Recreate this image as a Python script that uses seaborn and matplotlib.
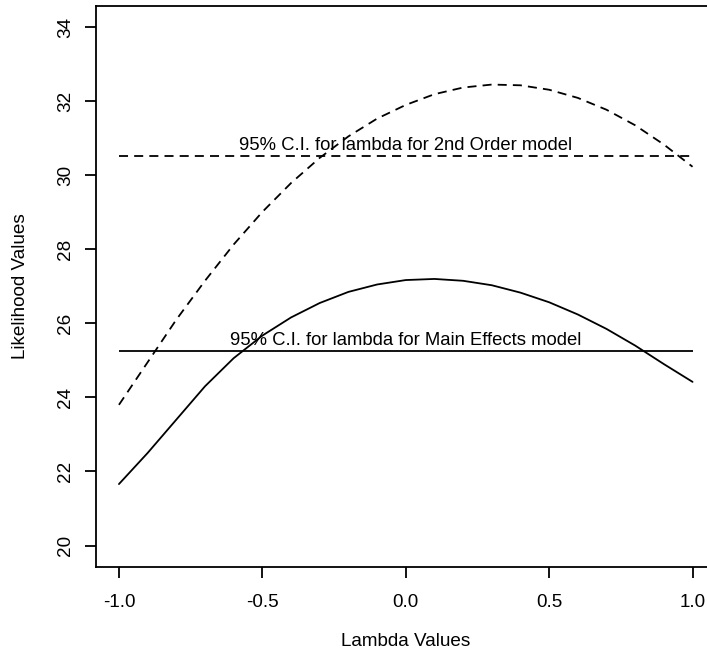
import matplotlib
matplotlib.use("Agg")
import matplotlib.pyplot as plt
import seaborn as sns
import numpy as np
import pandas as pd

# ---- data ----
lambda_values = [-1.0, -0.9, -0.8, -0.7, -0.6, -0.5, -0.4, -0.3, -0.2, -0.1, 0.0,
                 0.1, 0.2, 0.3, 0.4, 0.5, 0.6, 0.7, 0.8, 0.9, 1.0]
main_effects_lik = [21.66, 22.50, 23.40, 24.30, 25.06, 25.67, 26.16, 26.55, 26.85, 27.05, 27.17,
                    27.20, 27.15, 27.03, 26.83, 26.57, 26.24, 25.85, 25.40, 24.90, 24.42]
second_order_lik = [23.80, 24.95, 26.10, 27.15, 28.13, 29.01, 29.79, 30.47, 31.05, 31.53, 31.90,
                    32.19, 32.37, 32.45, 32.43, 32.31, 32.09, 31.77, 31.35, 30.83, 30.23]
ci_main_effects = 25.26
ci_second_order = 30.51
label_main = "95% C.I. for lambda for Main Effects model"
label_second = "95% C.I. for lambda for 2nd Order model"
x_ticks = [-1.0, -0.5, 0.0, 0.5, 1.0]
x_tick_labels = ["-1.0", "-0.5", "0.0", "0.5", "1.0"]
y_ticks = [20, 22, 24, 26, 28, 30, 32, 34]
y_tick_labels = ["20", "22", "24", "26", "28", "30", "32", "34"]

sns.set_style("ticks")
plt.rcParams['font.family'] = ['Liberation Sans', 'DejaVu Sans']
plt.rcParams['text.color'] = 'black'
plt.rcParams['axes.labelcolor'] = 'black'
plt.rcParams['xtick.color'] = 'black'
plt.rcParams['ytick.color'] = 'black'

fig = plt.figure(figsize=(7.07, 6.55), dpi=100)
W, H = 707, 655
left_px, right_px, top_px, bottom_px = 96, 715.5, 5.7, 567
ax = fig.add_axes([left_px / W, 1 - bottom_px / H, (right_px - left_px) / W, (bottom_px - top_px) / H])

df = pd.DataFrame({"lam": lambda_values, "main": main_effects_lik, "second": second_order_lik})
lw = 1.3
sns.lineplot(data=df, x="lam", y="main", ax=ax, color="black", lw=lw)
sns.lineplot(data=df, x="lam", y="second", ax=ax, color="black", lw=lw,
             linestyle=(0, (5.0, 3.4)))

ax.hlines(ci_second_order, lambda_values[0], lambda_values[-1], color="black", lw=lw,
          linestyles=[(0, (5.0, 3.4))])
ax.hlines(ci_main_effects, lambda_values[0], lambda_values[-1], color="black", lw=lw)

mid = 0.0
ax.annotate(label_second, xy=(mid, ci_second_order), xytext=(0, 4.6), textcoords="offset points",
            ha="center", va="baseline", fontsize=13.3, color="black")
ax.annotate(label_main, xy=(mid, ci_main_effects), xytext=(0, 4.4), textcoords="offset points",
            ha="center", va="baseline", fontsize=13.3, color="black")

ax.set_xlim(-1.08, 1.08)
ax.set_ylim(19.42, 34.58)
ax.set_xticks(x_ticks)
ax.set_xticklabels(x_tick_labels)
ax.set_yticks(y_ticks)
ax.set_yticklabels(y_tick_labels, rotation=90, va="center")

for s in ax.spines.values():
    s.set_linewidth(1.3)
    s.set_color("black")
ax.tick_params(axis="both", direction="out", length=8, width=1.3, labelsize=13.6, colors="black")
ax.tick_params(axis="x", pad=11.5)
ax.tick_params(axis="y", pad=8)

ax.set_xlabel("Lambda Values", fontsize=13.6, labelpad=16)
ax.set_ylabel("Likelihood Values", fontsize=13.6, labelpad=20)

fig.savefig("out.png", dpi=100)
